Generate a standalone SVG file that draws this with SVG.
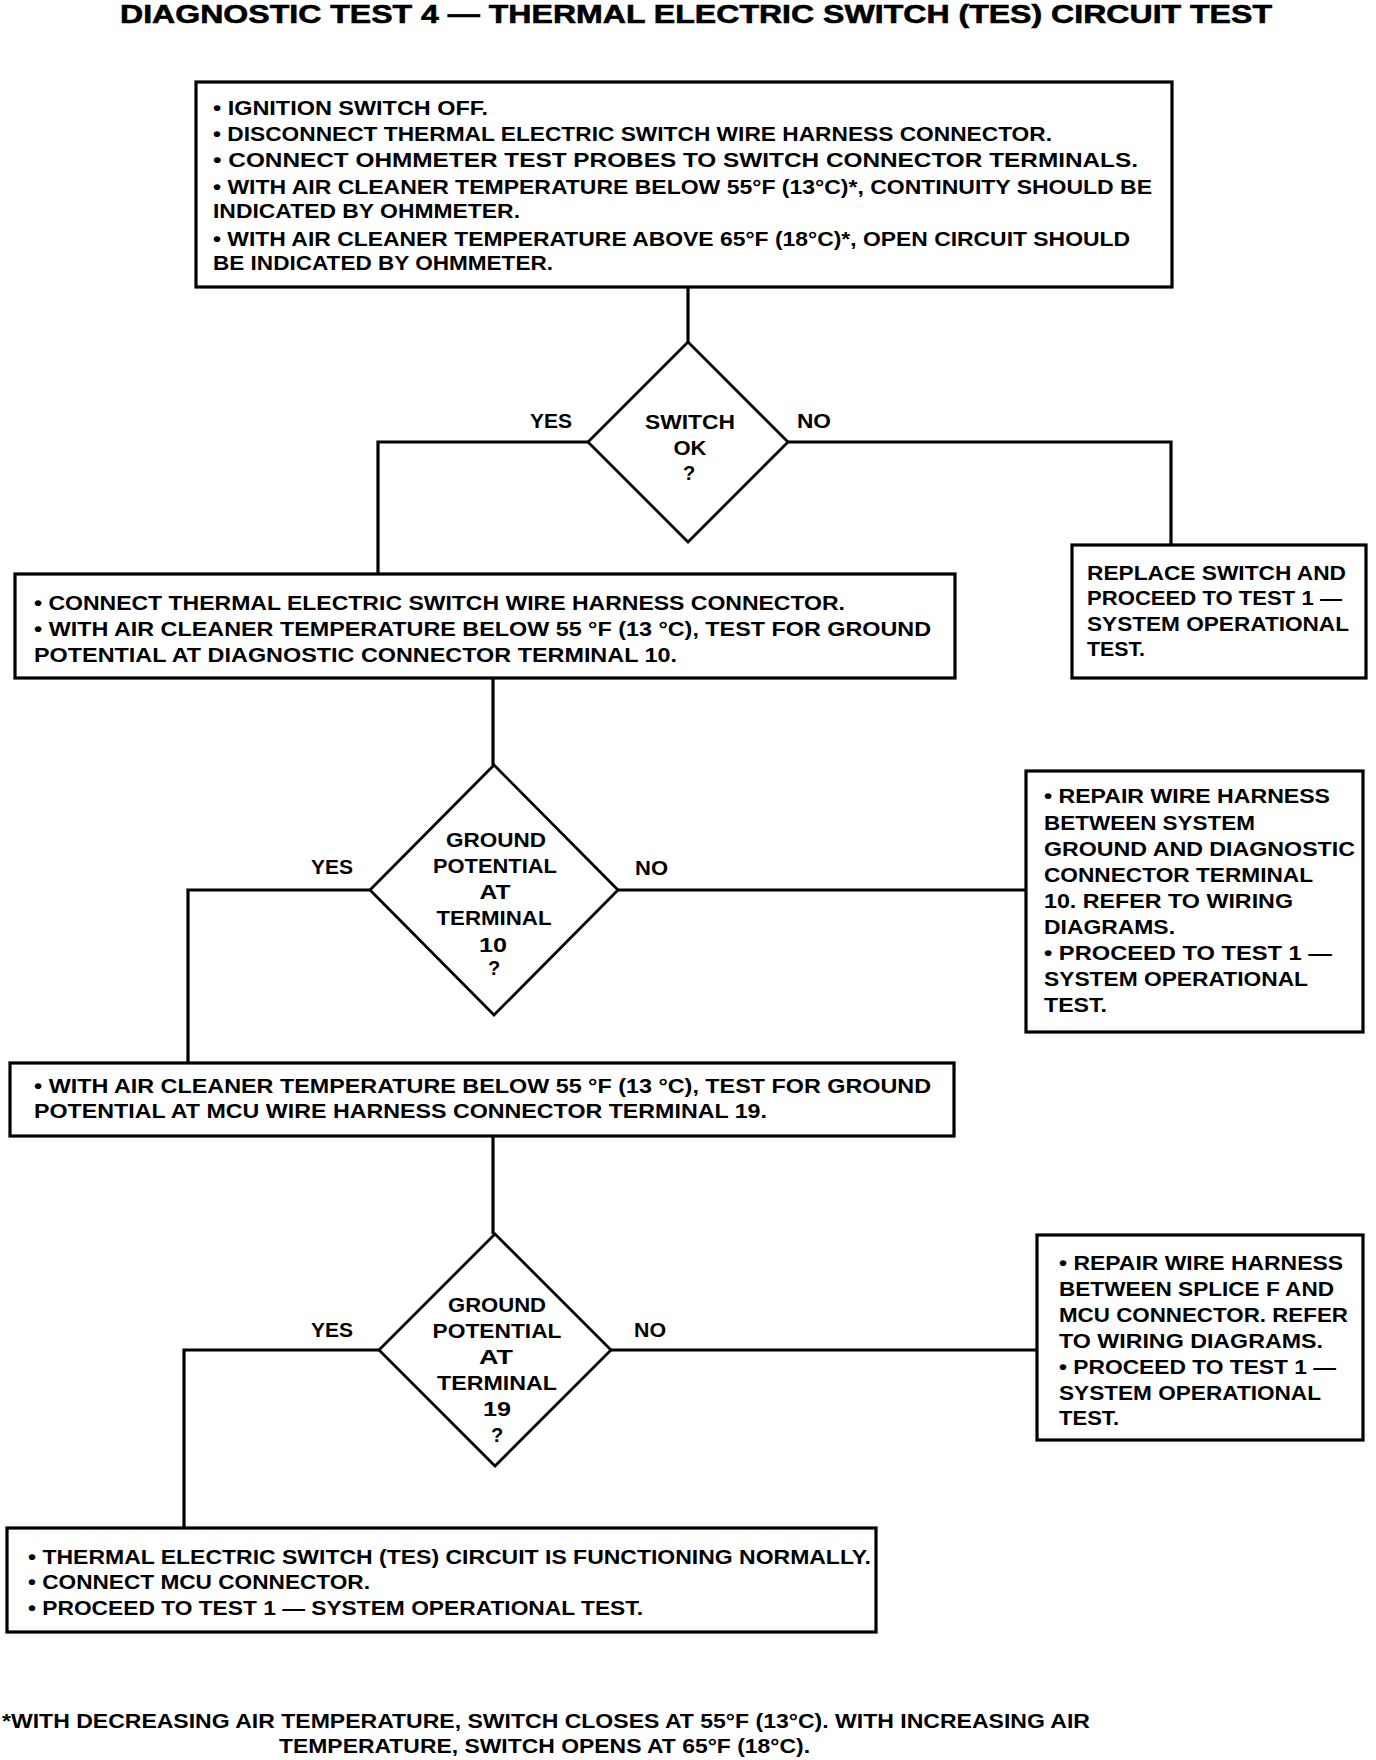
<svg xmlns="http://www.w3.org/2000/svg" width="1376" height="1760" viewBox="0 0 1376 1760">
<style>
.bg{fill:#fff}
.box{fill:#fff;stroke:#000;stroke-width:3.2}
.dia{fill:#fff;stroke:#000;stroke-width:2.8;stroke-linejoin:miter}
.con{fill:none;stroke:#000;stroke-width:3.2}
text{font-family:"Liberation Sans",Arial,Helvetica,sans-serif;font-weight:bold;fill:#000}
.t{font-size:20px}
.c{font-size:20px;text-anchor:middle}
.title{font-size:26.5px;stroke:#000;stroke-width:0.6}
</style>
<rect class="bg" x="0" y="0" width="1376" height="1760"/>
<text class="title" x="120" y="23" textLength="1152" lengthAdjust="spacingAndGlyphs">DIAGNOSTIC TEST 4 — THERMAL ELECTRIC SWITCH (TES) CIRCUIT TEST</text>

<g id="connectors">
<line class="con" x1="688" y1="287" x2="688" y2="342"/>
<polyline class="con" points="588,442 378,442 378,574"/>
<polyline class="con" points="788,442 1171,442 1171,545"/>
<line class="con" x1="493" y1="678" x2="493" y2="765"/>
<polyline class="con" points="370,890 188,890 188,1063"/>
<line class="con" x1="618" y1="890" x2="1026" y2="890"/>
<line class="con" x1="493" y1="1136" x2="493" y2="1234"/>
<polyline class="con" points="379,1350 184,1350 184,1528"/>
<line class="con" x1="611" y1="1350" x2="1037" y2="1350"/>
<text class="t" x="530" y="428" textLength="42" lengthAdjust="spacingAndGlyphs">YES</text>
<text class="t" x="797" y="428" textLength="34" lengthAdjust="spacingAndGlyphs">NO</text>
<text class="t" x="311" y="874" textLength="42" lengthAdjust="spacingAndGlyphs">YES</text>
<text class="t" x="635" y="875" textLength="33" lengthAdjust="spacingAndGlyphs">NO</text>
<text class="t" x="311" y="1337" textLength="42" lengthAdjust="spacingAndGlyphs">YES</text>
<text class="t" x="634" y="1337" textLength="32" lengthAdjust="spacingAndGlyphs">NO</text>
</g>

<g id="box1">
<rect class="box" x="196" y="82" width="976" height="205"/>
<text class="t" x="213" y="115" textLength="275" lengthAdjust="spacingAndGlyphs">• IGNITION SWITCH OFF.</text>
<text class="t" x="213" y="141" textLength="839" lengthAdjust="spacingAndGlyphs">• DISCONNECT THERMAL ELECTRIC SWITCH WIRE HARNESS CONNECTOR.</text>
<text class="t" x="213" y="167" textLength="925" lengthAdjust="spacingAndGlyphs">• CONNECT OHMMETER TEST PROBES TO SWITCH CONNECTOR TERMINALS.</text>
<text class="t" x="213" y="194" textLength="939" lengthAdjust="spacingAndGlyphs">• WITH AIR CLEANER TEMPERATURE BELOW 55°F (13°C)*, CONTINUITY SHOULD BE</text>
<text class="t" x="213" y="218" textLength="307" lengthAdjust="spacingAndGlyphs">INDICATED BY OHMMETER.</text>
<text class="t" x="213" y="246" textLength="917" lengthAdjust="spacingAndGlyphs">• WITH AIR CLEANER TEMPERATURE ABOVE 65°F (18°C)*, OPEN CIRCUIT SHOULD</text>
<text class="t" x="213" y="270" textLength="340" lengthAdjust="spacingAndGlyphs">BE INDICATED BY OHMMETER.</text>
</g>

<g id="decision1">
<polygon class="dia" points="688,342 788,442 688,542 588,442"/>
<text class="c" x="690" y="429" textLength="90" lengthAdjust="spacingAndGlyphs">SWITCH</text>
<text class="c" x="690" y="455" textLength="33" lengthAdjust="spacingAndGlyphs">OK</text>
<text class="c" x="689" y="480">?</text>
</g>

<g id="replace">
<rect class="box" x="1072" y="545" width="294" height="133"/>
<text class="t" x="1087" y="580" textLength="259" lengthAdjust="spacingAndGlyphs">REPLACE SWITCH AND</text>
<text class="t" x="1087" y="605" textLength="255" lengthAdjust="spacingAndGlyphs">PROCEED TO TEST 1 —</text>
<text class="t" x="1087" y="631" textLength="262" lengthAdjust="spacingAndGlyphs">SYSTEM OPERATIONAL</text>
<text class="t" x="1087" y="656" textLength="58" lengthAdjust="spacingAndGlyphs">TEST.</text>
</g>

<g id="box2">
<rect class="box" x="15" y="574" width="940" height="104"/>
<text class="t" x="34" y="610" textLength="811" lengthAdjust="spacingAndGlyphs">• CONNECT THERMAL ELECTRIC SWITCH WIRE HARNESS CONNECTOR.</text>
<text class="t" x="34" y="636" textLength="897" lengthAdjust="spacingAndGlyphs">• WITH AIR CLEANER TEMPERATURE BELOW 55 °F (13 °C), TEST FOR GROUND</text>
<text class="t" x="34" y="662" textLength="643" lengthAdjust="spacingAndGlyphs">POTENTIAL AT DIAGNOSTIC CONNECTOR TERMINAL 10.</text>
</g>

<g id="decision2">
<polygon class="dia" points="494,765 618,890 494,1015 370,890"/>
<text class="c" x="496" y="847" textLength="100" lengthAdjust="spacingAndGlyphs">GROUND</text>
<text class="c" x="495" y="873" textLength="124" lengthAdjust="spacingAndGlyphs">POTENTIAL</text>
<text class="c" x="495" y="899" textLength="31" lengthAdjust="spacingAndGlyphs">AT</text>
<text class="c" x="494" y="925" textLength="115" lengthAdjust="spacingAndGlyphs">TERMINAL</text>
<text class="c" x="493" y="952" textLength="28" lengthAdjust="spacingAndGlyphs">10</text>
<text class="c" x="494" y="975">?</text>
</g>

<g id="repair1">
<rect class="box" x="1026" y="771" width="337" height="261"/>
<text class="t" x="1044" y="803" textLength="286" lengthAdjust="spacingAndGlyphs">• REPAIR WIRE HARNESS</text>
<text class="t" x="1044" y="830" textLength="211" lengthAdjust="spacingAndGlyphs">BETWEEN SYSTEM</text>
<text class="t" x="1044" y="856" textLength="311" lengthAdjust="spacingAndGlyphs">GROUND AND DIAGNOSTIC</text>
<text class="t" x="1044" y="882" textLength="269" lengthAdjust="spacingAndGlyphs">CONNECTOR TERMINAL</text>
<text class="t" x="1044" y="908" textLength="249" lengthAdjust="spacingAndGlyphs">10. REFER TO WIRING</text>
<text class="t" x="1044" y="934" textLength="131" lengthAdjust="spacingAndGlyphs">DIAGRAMS.</text>
<text class="t" x="1044" y="960" textLength="288" lengthAdjust="spacingAndGlyphs">• PROCEED TO TEST 1 —</text>
<text class="t" x="1044" y="986" textLength="264" lengthAdjust="spacingAndGlyphs">SYSTEM OPERATIONAL</text>
<text class="t" x="1044" y="1012" textLength="63" lengthAdjust="spacingAndGlyphs">TEST.</text>
</g>

<g id="box3">
<rect class="box" x="10" y="1063" width="944" height="73"/>
<text class="t" x="34" y="1093" textLength="897" lengthAdjust="spacingAndGlyphs">• WITH AIR CLEANER TEMPERATURE BELOW 55 °F (13 °C), TEST FOR GROUND</text>
<text class="t" x="34" y="1118" textLength="733" lengthAdjust="spacingAndGlyphs">POTENTIAL AT MCU WIRE HARNESS CONNECTOR TERMINAL 19.</text>
</g>

<g id="decision3">
<polygon class="dia" points="495,1234 611,1350 495,1466 379,1350"/>
<text class="c" x="497" y="1312" textLength="98" lengthAdjust="spacingAndGlyphs">GROUND</text>
<text class="c" x="497" y="1338" textLength="129" lengthAdjust="spacingAndGlyphs">POTENTIAL</text>
<text class="c" x="496" y="1364" textLength="34" lengthAdjust="spacingAndGlyphs">AT</text>
<text class="c" x="497" y="1390" textLength="120" lengthAdjust="spacingAndGlyphs">TERMINAL</text>
<text class="c" x="497" y="1416" textLength="28" lengthAdjust="spacingAndGlyphs">19</text>
<text class="c" x="497" y="1442">?</text>
</g>

<g id="repair2">
<rect class="box" x="1037" y="1235" width="326" height="205"/>
<text class="t" x="1059" y="1270" textLength="284" lengthAdjust="spacingAndGlyphs">• REPAIR WIRE HARNESS</text>
<text class="t" x="1059" y="1296" textLength="275" lengthAdjust="spacingAndGlyphs">BETWEEN SPLICE F AND</text>
<text class="t" x="1059" y="1322" textLength="289" lengthAdjust="spacingAndGlyphs">MCU CONNECTOR. REFER</text>
<text class="t" x="1059" y="1348" textLength="264" lengthAdjust="spacingAndGlyphs">TO WIRING DIAGRAMS.</text>
<text class="t" x="1059" y="1374" textLength="277" lengthAdjust="spacingAndGlyphs">• PROCEED TO TEST 1 —</text>
<text class="t" x="1059" y="1400" textLength="262" lengthAdjust="spacingAndGlyphs">SYSTEM OPERATIONAL</text>
<text class="t" x="1059" y="1425" textLength="60" lengthAdjust="spacingAndGlyphs">TEST.</text>
</g>

<g id="box5">
<rect class="box" x="7" y="1528" width="869" height="104"/>
<text class="t" x="28" y="1564" textLength="843" lengthAdjust="spacingAndGlyphs">• THERMAL ELECTRIC SWITCH (TES) CIRCUIT IS FUNCTIONING NORMALLY.</text>
<text class="t" x="28" y="1589" textLength="342" lengthAdjust="spacingAndGlyphs">• CONNECT MCU CONNECTOR.</text>
<text class="t" x="28" y="1615" textLength="615" lengthAdjust="spacingAndGlyphs">• PROCEED TO TEST 1 — SYSTEM OPERATIONAL TEST.</text>
</g>

<g id="footnote">
<text class="t" x="2" y="1728" textLength="1088" lengthAdjust="spacingAndGlyphs">*WITH DECREASING AIR TEMPERATURE, SWITCH CLOSES AT 55°F (13°C). WITH INCREASING AIR</text>
<text class="t" x="279" y="1753" textLength="531" lengthAdjust="spacingAndGlyphs">TEMPERATURE, SWITCH OPENS AT 65°F (18°C).</text>
</g>
</svg>
